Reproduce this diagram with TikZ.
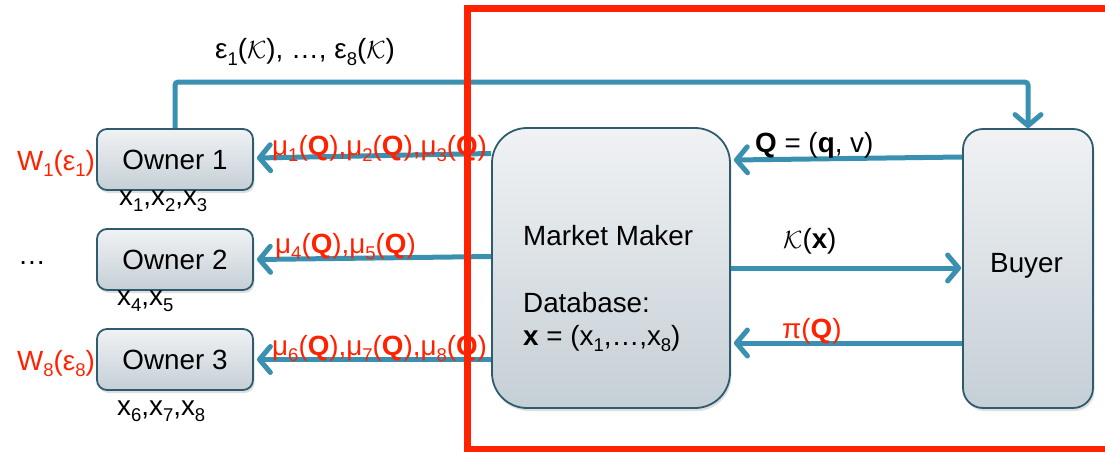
\documentclass[tikz,border=0pt]{standalone}
\usepackage{fontspec}
\setmainfont{Liberation Sans}
\usetikzlibrary{arrows.meta,shadows,calc}
\definecolor{flow}{RGB}{58,144,176}
\definecolor{alert}{RGB}{255,34,0}
\definecolor{edge}{RGB}{46,92,110}
\definecolor{boxtop}{RGB}{240,242,244}
\definecolor{boxbot}{RGB}{197,207,214}
% lowered small digits used as indices
\newcommand\sbs[1]{\raisebox{-6.5pt}{\fontsize{18.5}{18.5}\selectfont #1}}
\newcommand\bQ{\textbf{Q}}
\begin{document}
\begin{tikzpicture}[x=1pt,y=-1pt,
  every node/.style={font=\fontsize{27.8}{32}\selectfont, inner sep=0pt},
  panel/.style={draw=edge, line width=1.8pt, top color=boxtop, bottom color=boxbot,
    drop shadow={shadow xshift=1.5pt, shadow yshift=-3pt, opacity=0.25}},
  ownerbox/.style={panel, rounded corners=10pt, minimum width=156pt, minimum height=61pt},
  flowline/.style={draw=flow, line width=5pt, -{Straight Barb[length=11pt,width=26pt,round]}},
  txt/.style={anchor=base west},
  red/.style={txt, text=alert}
]
\useasboundingbox (0,0) rectangle (1105,452);
\clip (0,0) rectangle (1105,452);

% parties
\node[ownerbox] (o1) at (175,159.5) {Owner 1};
\node[ownerbox] (o2) at (175,259.5) {Owner 2};
\node[ownerbox] (o3) at (175,359.5) {Owner 3};
\node[panel, rounded corners=35pt, minimum width=238pt, minimum height=280pt] (mm) at (611,268) {};
\node[panel, rounded corners=20pt, minimum width=130pt, minimum height=279pt] (by) at (1028,268.5) {};

% flows
\draw[flowline, rounded corners=3pt] (o1.north) -- ++(0,-46) -| (by.north);
\draw[flowline] ($(mm.west |- o1.east)+(0,-6)$) -- ($(o1.east)+(3,-1.5)$);
\draw[flowline] ($(mm.west |- o2.east)+(0,-3)$) -- ($(o2.east)+(3,0)$);
\draw[flowline] (mm.west |- o3.east) -- ($(o3.east)+(3,0)$);
\draw[flowline] ($(by.west)+(0,-111.5)$) -- ($(mm.east)+(3,-108)$);
\draw[flowline] (mm.east) -- ($(by.west)+(-1,-0.5)$);
\draw[flowline] ($(by.west)+(0,74.5)$) -- ($(mm.east)+(3,75)$);

% texts
\node[txt] (top) at (215,59) {ε\sbs{1}($\mathcal{K}$), …, ε\sbs{8}($\mathcal{K}$)};
\node[red] (w1) at (17,170) {W\sbs{1}(ε\sbs{1})};
\node[txt] (dots) at (18,264) {…};
\node[red] (w8) at (17,370) {W\sbs{8}(ε\sbs{8})};
\node[txt] (d1) at (119,205) {x\sbs{1},x\sbs{2},x\sbs{3}};
\node[txt] (d2) at (117,305) {x\sbs{4},x\sbs{5}};
\node[txt] (d3) at (117,415) {x\sbs{6},x\sbs{7},x\sbs{8}};
\node[red] (mu1) at (272,155) {μ\sbs{1}(\bQ),μ\sbs{2}(\bQ),μ\sbs{3}(\bQ)};
\node[red] (mu2) at (275,253) {μ\sbs{4}(\bQ),μ\sbs{5}(\bQ)};
\node[red] (mu3) at (272,355) {μ\sbs{6}(\bQ),μ\sbs{7}(\bQ),μ\sbs{8}(\bQ)};
\node[txt] (mmt) at (523,245) {Market Maker};
\node[txt] (dbt) at (523,312) {Database:};
\node[txt] (dbx) at (523,345) {\textbf{x} = (x\sbs{1},…,x\sbs{8})};
\node[txt] (qv) at (755,152) {\bQ{} = (\textbf{q}, v)};
\node[txt] (kx) at (783,248) {$\mathcal{K}$(\textbf{x})};
\node[red] (pq) at (782,338) {π(\bQ)};
\node[txt] (byt) at (990,272) {Buyer};

% market boundary
\draw[alert, line width=7pt] (467,8.5) rectangle (1125,449);
\end{tikzpicture}
\end{document}
